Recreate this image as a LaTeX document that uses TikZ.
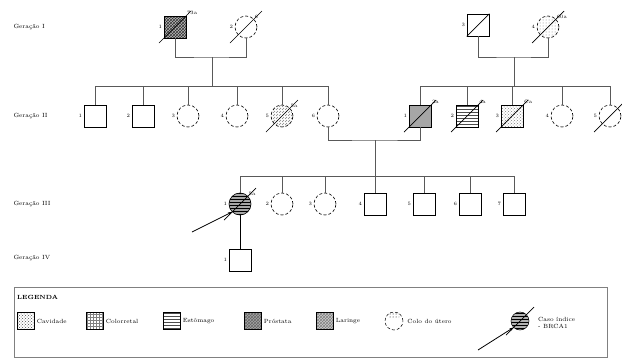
\documentclass[tikz,border=0pt]{standalone}
\usetikzlibrary{patterns,calc,arrows.meta}
\tikzset{
  sq/.style={draw, rectangle, minimum size=22pt, inner sep=0pt, line width=0.6pt},
  ci/.style={draw, circle, minimum size=22pt, inner sep=0pt, line width=0.6pt, densely dashed},
  lsq/.style={draw, rectangle, minimum size=17pt, inner sep=0pt, line width=0.5pt},
  lnk/.style={line width=0.6pt, draw=black!65},
  gen/.style={anchor=west, font=\fontsize{6}{7}\selectfont},
  num/.style={font=\fontsize{5}{6}\selectfont, anchor=east, inner sep=1.5pt},
  age/.style={font=\fontsize{5}{6}\selectfont, anchor=south west, inner sep=0.5pt},
  leg/.style={anchor=west, font=\fontsize{6}{7}\selectfont, inner sep=2pt},
  slash/.style={line width=0.7pt}
}
\newcommand{\dead}[1]{\draw[slash] ($(#1.center)+(-16,16)$) -- ($(#1.center)+(16,-16)$);}
\begin{document}
\begin{tikzpicture}[x=1pt,y=-1pt]
\useasboundingbox (0,0) rectangle (622,362);
% generation labels
\node[gen] (g1) at (10,27) {Geração I};
\node[gen] (g2) at (10,116) {Geração II};
\node[gen] (g3) at (10,204) {Geração III};
\node[gen] (g4) at (10,258) {Geração IV};
% Generation I
\node[sq, preaction={fill=gray!55}, pattern=crosshatch, pattern color=black!80] (I1) at (175,27) {};
\node[ci] (I2) at (246,27) {};
\node[sq] (I3) at (478,25) {};
\node[ci, pattern=dots, pattern color=gray] (I4) at (548,27) {};
\dead{I1}\dead{I2}\dead{I4}
\draw[slash] (I3.south west) -- (I3.north east);
\node[num] at (I1.west) {1}; \node[age] at (I1.north east) {73a};
\node[num] at (I2.west) {2}; \node[age] at (I2.north east) {6};
\node[num] at (I3.west) {3};
\node[num] at (I4.west) {4}; \node[age] at (I4.north east) {60a};
\coordinate (m1) at (212,57);
\coordinate (m2) at (514,57);
\draw[lnk] (I1.south) |- (m1) -| (I2.south);
\draw[lnk] (I3.south) |- (m2) -| (I4.south);
% Generation II
\node[sq] (A1) at (95,116) {};
\node[sq] (A2) at (143,116) {};
\node[ci] (A3) at (188,116) {};
\node[ci] (A4) at (237,116) {};
\node[ci, pattern=north east lines, pattern color=gray] (A5) at (282,116) {};
\node[ci] (A6) at (328,116) {};
\dead{A5}
\node[num] at (A1.west) {1};
\node[num] at (A2.west) {2};
\node[num] at (A3.west) {3};
\node[num] at (A4.west) {4};
\node[num] at (A5.west) {5}; \node[age] at (A5.north east) {5a};
\node[num] at (A6.west) {6};
\node[sq, fill=gray!70] (B1) at (420,116) {};
\node[sq, pattern=horizontal lines, pattern color=black!70] (B2) at (467,116) {};
\node[sq, pattern=crosshatch dots, pattern color=gray] (B3) at (512,116) {};
\node[ci] (B4) at (562,116) {};
\node[ci] (B5) at (610,116) {};
\dead{B1}\dead{B2}\dead{B3}\dead{B5}
\node[num] at (B1.west) {1}; \node[age] at (B1.north east) {2a};
\node[num] at (B2.west) {2}; \node[age] at (B2.north east) {4a};
\node[num] at (B3.west) {3}; \node[age] at (B3.north east) {Ca};
\node[num] at (B4.west) {4};
\node[num] at (B5.west) {5};
\coordinate (s1l) at (95,86);
\coordinate (s1r) at (328,86);
\draw[lnk] (s1l) -- (s1r);
\draw[lnk] (m1) -- (m1 |- s1l);
\foreach \n in {A1,A2,A3,A4,A5,A6} \draw[lnk] (\n.north) -- (\n.north |- s1l);
\coordinate (s2l) at (420,86);
\coordinate (s2r) at (610,86);
\draw[lnk] (s2l) -- (s2r);
\draw[lnk] (m2) -- (m2 |- s2l);
\foreach \n in {B1,B2,B3,B4,B5} \draw[lnk] (\n.north) -- (\n.north |- s2l);
\coordinate (m3) at (375,140);
\draw[lnk] (A6.south) |- (m3) -| (B1.south);
% Generation III
\node[ci, solid, preaction={fill=gray!70}, pattern=horizontal lines, pattern color=black] (C1) at (240,204) {};
\node[ci] (C2) at (282,204) {};
\node[ci] (C3) at (325,204) {};
\node[sq] (C4) at (375,204) {};
\node[sq] (C5) at (424,204) {};
\node[sq] (C6) at (470,204) {};
\node[sq] (C7) at (514,204) {};
\dead{C1}
\node[num] at (C1.west) {1}; \node[age] at (C1.north east) {5a};
\node[num] at (C2.west) {2};
\node[num] at (C3.west) {3};
\node[num] at (C4.west) {4};
\node[num] at (C5.west) {5};
\node[num] at (C6.west) {6};
\node[num] at (C7.west) {7};
\coordinate (s3l) at (240,176);
\coordinate (s3r) at (514,176);
\draw[lnk] (s3l) -- (s3r);
\draw[lnk] (m3) -- (m3 |- s3l);
\foreach \n in {C1,C2,C3,C4,C5,C6,C7} \draw[lnk] (\n.north) -- (\n.north |- s3l);
\coordinate (pa) at (192,232);
\draw[-{Stealth[length=4pt]}, line width=0.8pt] (pa) -- (C1.south west);
% Generation IV
\node[sq] (D1) at (240,260) {};
\node[num] at (D1.west) {1};
\draw[line width=0.8pt] (C1.south) -- (D1.north);
% Legend
\node[draw=gray, line width=1.2pt, minimum width=593pt, minimum height=70pt, anchor=north west, inner sep=0pt] (box) at (14,287) {};
\node[leg, font=\fontsize{6}{7}\selectfont\bfseries] (lt) at (15,297) {LEGENDA};
\node[lsq, pattern=crosshatch dots, pattern color=black!70] (L1) at (26,321) {};
\node[leg] (t1) at (L1.east) {Cavidade};
\node[lsq, pattern=grid, pattern color=gray] (L2) at (95,321) {};
\node[leg] (t2) at (L2.east) {Colorretal};
\node[lsq, pattern=horizontal lines, pattern color=black!70] (L3) at (172,321) {};
\node[leg] (t3) at (L3.east) {Estômago};
\node[lsq, preaction={fill=gray!70}, pattern=crosshatch, pattern color=black!60] (L4) at (253,321) {};
\node[leg] (t4) at (L4.east) {Próstata};
\node[lsq, preaction={fill=gray!40}, pattern=crosshatch, pattern color=black!50] (L5) at (325,321) {};
\node[leg] (t5) at (L5.east) {Laringe};
\node[draw, circle, densely dashed, minimum size=18pt, inner sep=0pt, line width=0.5pt] (L6) at (394,321) {};
\fill[pattern=dots] ($(L6.center)+(-5,-3)$) rectangle ($(L6.center)+(5,-8)$);
\node[leg, xshift=2pt] (t6) at (L6.east) {Colo do útero};
\node[draw, circle, minimum size=18pt, inner sep=0pt, line width=0.5pt, preaction={fill=gray!60}, pattern=horizontal lines] (L7) at (520,321) {};
\draw[slash] ($(L7.center)+(-14,14)$) -- ($(L7.center)+(14,-14)$);
\coordinate (la) at (478,350);
\draw[-{Stealth[length=4pt]}, line width=0.8pt] (la) -- (L7.south west);
\node[leg, align=left] (t7) at (536,323) {Caso índice\\- BRCA1};
\end{tikzpicture}
\end{document}
